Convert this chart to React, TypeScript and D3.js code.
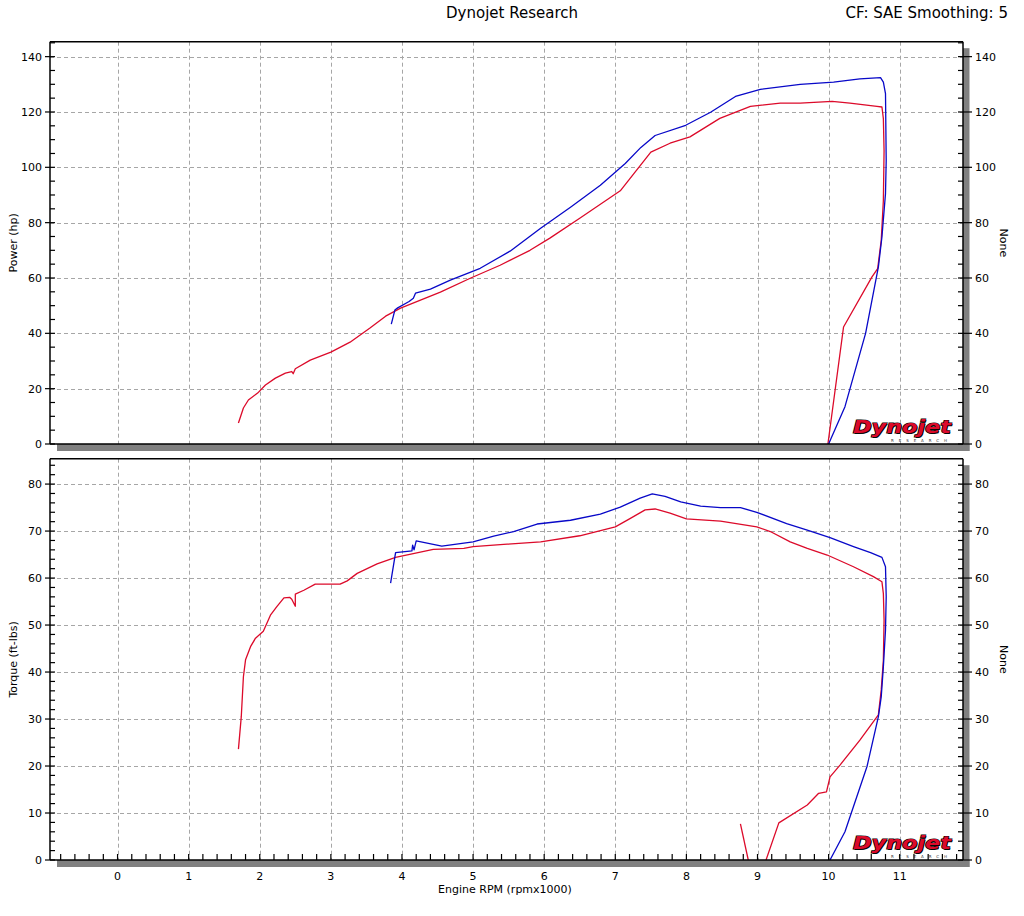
import * as d3 from 'd3';

// Power run (hp) vs engine rpm (x1000)
const powerRedRpm = [1.70, 1.77, 1.84, 1.97, 2.08, 2.22, 2.36, 2.45, 2.47, 2.50, 2.71, 3.00, 3.27, 3.55, 3.77, 3.98, 4.26, 4.54, 4.96, 5.38, 5.80, 6.08, 6.50, 7.07, 7.30, 7.50, 7.77, 8.05, 8.47, 8.90, 9.32, 9.60, 10.05, 10.30, 10.68, 10.75, 10.77, 10.78, 10.77, 10.74, 10.69, 10.61, 10.21, 9.99];
const powerRed = [7.6, 13, 15.9, 18.4, 21.3, 23.8, 25.6, 26.2, 25.4, 27.2, 30.3, 33.2, 36.8, 41.9, 46.2, 49.1, 52, 54.9, 59.9, 64.6, 70, 74.4, 81.6, 91.5, 99, 105.5, 108.7, 111, 117.7, 122, 123.2, 123.2, 123.8, 123.2, 122, 121.8, 117.6, 106, 88, 73.6, 63.4, 60.4, 42.3, 0];

const powerBlueRpm = [3.85, 3.90, 3.94, 4.10, 4.16, 4.19, 4.40, 4.68, 5.10, 5.52, 5.95, 6.37, 6.79, 7.14, 7.36, 7.56, 7.99, 8.34, 8.69, 9.04, 9.60, 10.07, 10.44, 10.73, 10.77, 10.80, 10.81, 10.80, 10.75, 10.70, 10.52, 10.23, 10.00];
const powerBlue = [43.3, 48.4, 49.2, 51.5, 52.7, 54.5, 56, 59.2, 63.5, 69.7, 78, 85.6, 93.5, 101.4, 107.2, 111.5, 115.2, 119.9, 125.6, 128.2, 130, 130.8, 132, 132.4, 130.8, 126.6, 102.5, 90.5, 74.8, 64, 40, 13.5, 0];

// Torque run (ft-lbs)
const torqueRedRpm = [1.70, 1.74, 1.77, 1.80, 1.87, 1.94, 2.05, 2.15, 2.24, 2.34, 2.42, 2.45, 2.50, 2.50, 2.62, 2.78, 3.13, 3.23, 3.37, 3.51, 3.65, 3.91, 4.44, 4.87, 5.00, 5.48, 5.95, 6.50, 7.00, 7.20, 7.42, 7.56, 7.77, 8.00, 8.48, 8.99, 9.18, 9.46, 9.70, 9.98, 10.35, 10.63, 10.75, 10.77, 10.78, 10.77, 10.74, 10.70, 10.44, 10.16, 10.02, 9.97, 9.86, 9.70, 9.30, 9.12];
const torqueRed = [23.6, 30.5, 39, 42.6, 45.4, 47.2, 48.7, 52.1, 53.9, 55.8, 55.9, 55.5, 54, 56.6, 57.4, 58.7, 58.7, 59.4, 61, 62, 63, 64.4, 66.1, 66.3, 66.7, 67.2, 67.7, 69, 70.9, 72.6, 74.5, 74.7, 73.8, 72.6, 72.1, 70.9, 69.9, 67.7, 66.3, 64.9, 62.4, 60.3, 59.2, 56.7, 51, 42.5, 36.2, 30.9, 25.5, 20.2, 17.7, 14.5, 14.2, 11.7, 7.9, 0];
const torqueRedTailRpm = [8.87, 8.76];
const torqueRedTail = [0, 7.7];

const torqueBlueRpm = [3.84, 3.91, 4.14, 4.15, 4.17, 4.20, 4.56, 5.00, 5.29, 5.57, 5.90, 6.37, 6.79, 7.07, 7.35, 7.52, 7.70, 7.92, 8.20, 8.48, 8.76, 8.99, 9.41, 9.70, 10.02, 10.35, 10.59, 10.75, 10.80, 10.81, 10.80, 10.77, 10.74, 10.70, 10.54, 10.23, 10.02];
const torqueBlue = [58.9, 65.4, 65.8, 67, 66, 67.9, 66.8, 67.7, 68.9, 69.9, 71.5, 72.3, 73.6, 75.1, 77, 77.9, 77.4, 76.2, 75.3, 75, 75, 74, 71.6, 70.2, 68.6, 66.7, 65.4, 64.4, 62.4, 56, 48.9, 41.1, 34.7, 30.5, 19.9, 6, 0];

const rpmTicks = [0, 1, 2, 3, 4, 5, 6, 7, 8, 9, 10, 11];
const powerTicks = [0, 20, 40, 60, 80, 100, 120, 140];
const torqueTicks = [0, 10, 20, 30, 40, 50, 60, 70, 80];

const RED = '#dc0a2a';
const BLUE = '#0808c8';
const FONT = 'DejaVu Sans, Verdana, sans-serif';

const L = 50, R = 963;
const x = d3.scaleLinear([-0.95, 11.89], [L, R]);

function pairs(xs: number[], ys: number[]): [number, number][] {
    return xs.map((v, i) => [v, ys[i]]);
}

function Logo({ right, bottom }: { right: number; bottom: number }) {
    return (
        <g>
            <text x={right - 99} y={bottom - 4} fontFamily={FONT} fontWeight="bold" fontStyle="italic"
                fontSize={18} textLength={98} lengthAdjust="spacingAndGlyphs"
                fill="#111" >Dynojet</text>
            <text x={right - 100} y={bottom - 5} fontFamily={FONT} fontWeight="bold" fontStyle="italic"
                fontSize={18} textLength={98} lengthAdjust="spacingAndGlyphs"
                fill={RED} stroke="#000" strokeWidth={1.2} style={{ paintOrder: 'stroke' }}>Dynojet</text>
            <text x={right - 62} y={bottom + 4} fontFamily={FONT} fontSize={4}
                textLength={56} lengthAdjust="spacing" fill="#333">RESEARCH</text>
        </g>
    );
}

function Panel({ id, top, bottom, max, majors, minorStep, series, title, showX }: {
    id: string; top: number; bottom: number; max: number; majors: number[]; minorStep: number;
    series: { data: [number, number][]; color: string }[]; title: string; showX: boolean;
}) {
    const y = d3.scaleLinear([0, max], [bottom, top]);
    const line = d3.line<[number, number]>().x(d => x(d[0])).y(d => y(d[1]));
    const majorStep = majors[1] - majors[0];
    const minors = d3.range(minorStep, max, minorStep).filter(v => Math.abs(v / majorStep - Math.round(v / majorStep)) > 1e-6);
    const xMinors = d3.range(-0.8, 11.81, 0.2);
    const mid = (top + bottom) / 2;

    return (
        <g>
            <defs>
                <clipPath id={id}>
                    <rect x={L} y={top} width={R - L} height={bottom - top} />
                </clipPath>
            </defs>
            {/* shadow strips */}
            <rect x={R} y={top + 6.5} width={6.5} height={bottom - top + 0.5} fill="#808080" />
            <rect x={L + 7} y={bottom} width={R - L - 0.5} height={7} fill="#808080" />
            <rect x={L} y={top} width={R - L} height={bottom - top} fill="#fff" />

            {/* grid */}
            <g stroke="#a6a6a6" strokeWidth={1} strokeDasharray="4,3">
                {rpmTicks.map(t => (
                    <line key={'v' + t} x1={Math.round(x(t)) + 0.5} x2={Math.round(x(t)) + 0.5} y1={top} y2={bottom} />
                ))}
                {majors.filter(t => t > 0).map(t => (
                    <line key={'h' + t} x1={L} x2={R} y1={Math.round(y(t)) + 0.5} y2={Math.round(y(t)) + 0.5} />
                ))}
            </g>

            <g clipPath={`url(#${id})`} fill="none" strokeWidth={1.3} strokeLinejoin="round">
                {series.map((s, i) => (
                    <path key={i} d={line(s.data) ?? ''} stroke={s.color} />
                ))}
            </g>

            <Logo right={953} bottom={bottom - 6} />

            {/* frame */}
            <g stroke="#000" strokeWidth={1.5}>
                <line x1={L} x2={R} y1={top} y2={top} />
                <line x1={L} x2={R} y1={bottom} y2={bottom} />
                <line x1={L} x2={L} y1={top} y2={bottom} />
                <line x1={R} x2={R} y1={top} y2={bottom} />
            </g>

            {/* y ticks */}
            <g stroke="#000" strokeWidth={1.2}>
                {majors.map(t => (
                    <g key={'mt' + t}>
                        <line x1={L - 5} x2={L + 5} y1={y(t)} y2={y(t)} />
                        <line x1={R - 5} x2={R + 9} y1={y(t)} y2={y(t)} />
                    </g>
                ))}
                {minors.map(t => (
                    <g key={'mn' + t}>
                        <line x1={L} x2={L + 5} y1={y(t)} y2={y(t)} />
                        <line x1={R - 5} x2={R} y1={y(t)} y2={y(t)} />
                    </g>
                ))}
                {showX && xMinors.map((t, i) => (
                    <line key={'xt' + i} x1={x(t)} x2={x(t)} y1={bottom} y2={bottom - 6} />
                ))}
            </g>

            <g fontFamily={FONT} fontSize={11} fill="#000">
                {majors.map(t => (
                    <g key={'lb' + t}>
                        <text x={L - 8} y={y(t)} dy="0.36em" textAnchor="end">{t}</text>
                        <text x={R + 12} y={y(t)} dy="0.36em">{t}</text>
                    </g>
                ))}
                {showX && rpmTicks.map(t => (
                    <text key={'xl' + t} x={x(t)} y={880} textAnchor="middle">{t}</text>
                ))}
                <text transform={`translate(17,${mid}) rotate(-90)`} textAnchor="middle">{title}</text>
                <text transform={`translate(1000,${mid}) rotate(90)`} textAnchor="middle">None</text>
            </g>
        </g>
    );
}

export default function App() {
    return (
        <div style={{ position: 'absolute', left: 0, top: 0 }}>
            <svg width={1024} height={916} style={{ display: 'block', background: '#fff' }}>
                <text x={512} y={18} textAnchor="middle" fontFamily={FONT} fontSize={15}>Dynojet Research</text>
                <text x={1008} y={18} textAnchor="end" fontFamily={FONT} fontSize={15}>CF: SAE Smoothing: 5</text>
                <Panel id="clipTop" top={41.7} bottom={444} max={145.4} majors={powerTicks} minorStep={5}
                    title="Power (hp)" showX={false}
                    series={[
                        { data: pairs(powerRedRpm, powerRed), color: RED },
                        { data: pairs(powerBlueRpm, powerBlue), color: BLUE },
                    ]} />
                <Panel id="clipBot" top={458.7} bottom={860} max={85.4} majors={torqueTicks} minorStep={2}
                    title="Torque (ft-lbs)" showX={true}
                    series={[
                        { data: pairs(torqueRedRpm, torqueRed), color: RED },
                        { data: pairs(torqueRedTailRpm, torqueRedTail), color: RED },
                        { data: pairs(torqueBlueRpm, torqueBlue), color: BLUE },
                    ]} />
                <text x={505} y={893} textAnchor="middle" fontFamily={FONT} fontSize={11}>Engine RPM (rpmx1000)</text>
            </svg>
        </div>
    );
}
